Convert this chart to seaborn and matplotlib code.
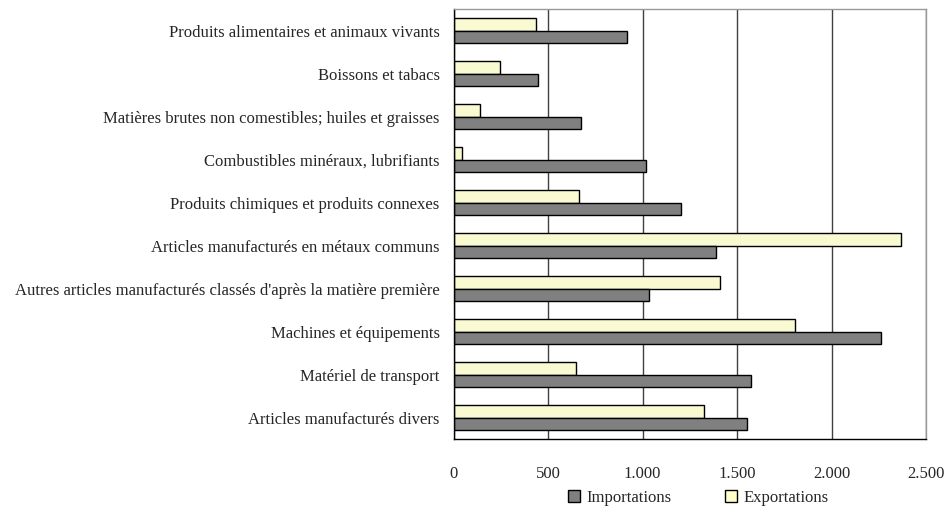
import matplotlib
matplotlib.use("Agg")
import matplotlib.pyplot as plt
from matplotlib.patches import Patch
import numpy as np
import pandas as pd
import seaborn as sns

categories = [
    "Produits alimentaires et animaux vivants",
    "Boissons et tabacs",
    "Matières brutes non comestibles; huiles et graisses",
    "Combustibles minéraux, lubrifiants",
    "Produits chimiques et produits connexes",
    "Articles manufacturés en métaux communs",
    "Autres articles manufacturés classés d'après la matière première",
    "Machines et équipements",
    "Matériel de transport",
    "Articles manufacturés divers",
]
importations = [917, 446, 676, 1018, 1203, 1388, 1032, 2261, 1573, 1554]
exportations = [434, 243, 141, 46, 661, 2367, 1407, 1806, 649, 1325]
x_ticks = [0, 500, 1000, 1500, 2000, 2500]
x_labels = ["0", "500", "1.000", "1.500", "2.000", "2.500"]

df = pd.DataFrame({
    "categorie": categories * 2,
    "valeur": exportations + importations,
    "flux": ["Exportations"] * len(categories) + ["Importations"] * len(categories),
})

sns.set_style("white")
plt.rcParams["font.family"] = ["Liberation Serif", "DejaVu Serif"]

colors = {"Importations": "#808080", "Exportations": "#FFFFCC"}
fs = 12

fig = plt.figure(figsize=(9.49, 5.13), dpi=100)
ax = fig.add_axes([0.478, 0.144, 0.498, 0.838])

sns.barplot(data=df, x="valeur", y="categorie", hue="flux", orient="h",
            hue_order=["Exportations", "Importations"], palette=colors,
            width=0.58, edgecolor="black", linewidth=1.0, ax=ax, legend=False)

ax.set_xlim(0, 2500)
ax.set_ylim(len(categories) - 0.5, -0.5)
ax.set_xticks(x_ticks)
ax.set_xticklabels(x_labels, fontsize=fs)
ax.set_xlabel("")
ax.set_ylabel("")
ax.tick_params(axis="y", which="major", length=0, labelsize=fs, pad=10)
ax.set_yticks(np.arange(len(categories) + 1) - 0.5, minor=True)
ax.tick_params(axis="y", which="minor", length=5, width=1, color="black", direction="out")
ax.tick_params(axis="x", which="major", length=5, width=1, color="black", direction="out", pad=14)

ax.grid(axis="x", color="#404040", linewidth=1)
ax.set_axisbelow(True)
for side in ["left", "bottom"]:
    ax.spines[side].set_color("black")
    ax.spines[side].set_linewidth(1)
for side in ["top", "right"]:
    ax.spines[side].set_color("#999999")
    ax.spines[side].set_linewidth(1)

handles = [Patch(facecolor=colors[k], edgecolor="black", label=k)
           for k in ["Importations", "Exportations"]]
fig.legend(handles=handles, loc="center", bbox_to_anchor=(0.736, 0.03), ncol=2,
           frameon=False, fontsize=fs, handlelength=0.7, handleheight=0.7,
           handletextpad=0.4, columnspacing=3.2)

fig.savefig("out.png", dpi=100)
